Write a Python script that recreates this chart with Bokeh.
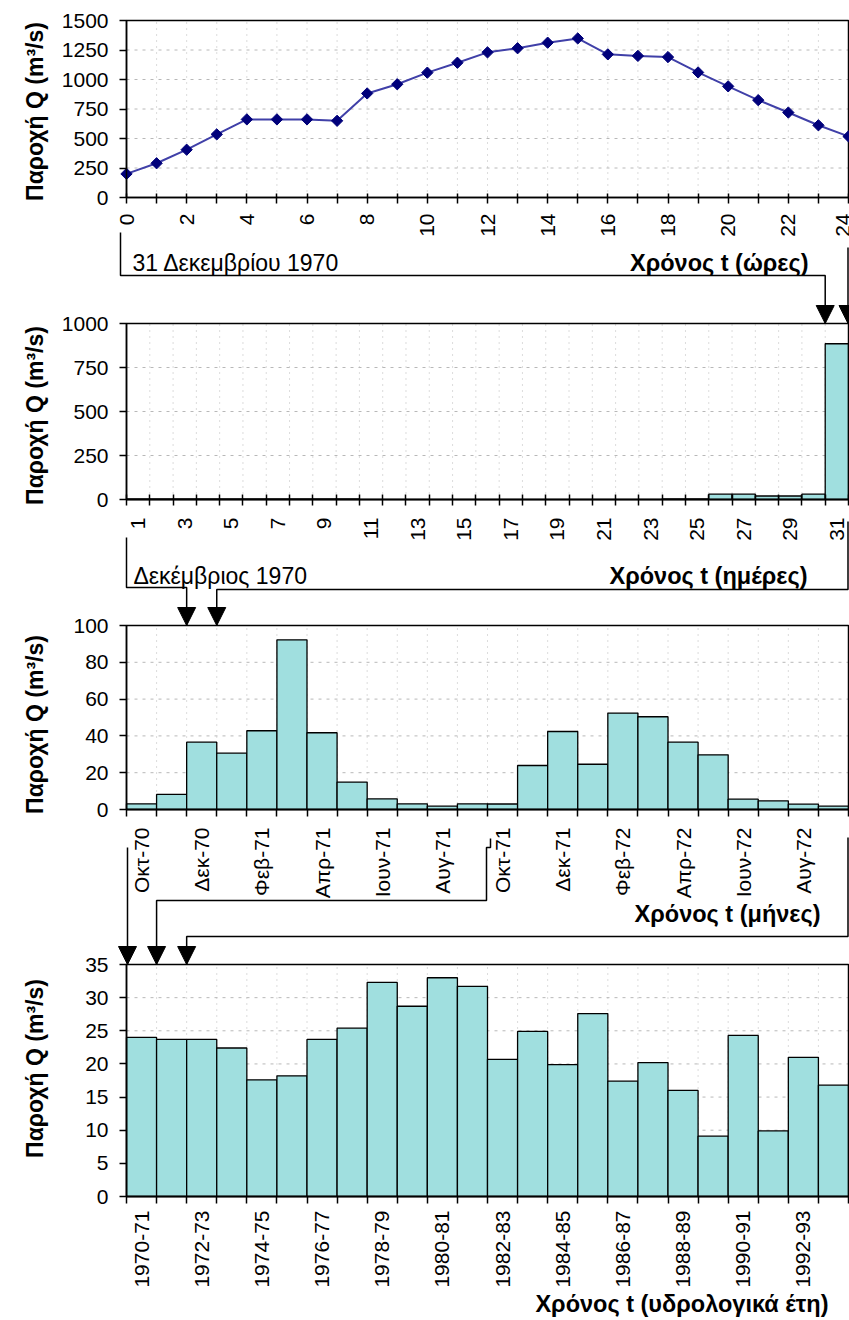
import numpy as np
from bokeh.plotting import figure
from bokeh.models import Range1d, FixedTicker, LinearAxis, Label
from bokeh.embed import file_html
from bokeh.resources import INLINE

# ---------------- data ----------------
# Chart 1: hourly discharge, 31 December 1970
hours = [0, 1, 2, 3, 4, 5, 6, 7, 8, 9, 10, 11, 12, 13, 14, 15, 16, 17, 18, 19, 20, 21, 22, 23, 24]
hourly_q = [200, 290, 405, 535, 662, 662, 662, 650, 882, 960, 1058, 1142, 1230, 1265, 1312, 1348,
            1213, 1200, 1190, 1060, 942, 825, 720, 612, 518]

# Chart 2: daily discharge, December 1970
days = [1, 2, 3, 4, 5, 6, 7, 8, 9, 10, 11, 12, 13, 14, 15, 16, 17, 18, 19, 20, 21, 22, 23, 24, 25,
        26, 27, 28, 29, 30, 31]
daily_q = [3, 3, 3, 3, 3, 3, 3, 3, 3, 3, 0, 0, 0, 0, 0, 0, 0, 0, 0, 0, 0, 0, 0, 3, 3,
           30, 30, 20, 20, 30, 885]

# Chart 3: monthly discharge, Oct 1970 - Sep 1972
months = ["Οκτ-70", "Νοε-70", "Δεκ-70", "Ιαν-71", "Φεβ-71", "Μαρ-71", "Απρ-71", "Μαϊ-71",
          "Ιουν-71", "Ιουλ-71", "Αυγ-71", "Σεπ-71", "Οκτ-71", "Νοε-71", "Δεκ-71", "Ιαν-72",
          "Φεβ-72", "Μαρ-72", "Απρ-72", "Μαϊ-72", "Ιουν-72", "Ιουλ-72", "Αυγ-72", "Σεπ-72"]
monthly_q = [3.1, 8.2, 36.6, 30.6, 42.8, 92.2, 41.7, 14.9, 5.8, 3.1, 1.8, 3.1,
             3.0, 23.9, 42.4, 24.6, 52.4, 50.4, 36.6, 29.7, 5.6, 4.7, 2.9, 1.8]

# Chart 4: annual discharge, hydrological years
years = ["1970-71", "1971-72", "1972-73", "1973-74", "1974-75", "1975-76", "1976-77", "1977-78",
         "1978-79", "1979-80", "1980-81", "1981-82", "1982-83", "1983-84", "1984-85", "1985-86",
         "1986-87", "1987-88", "1988-89", "1989-90", "1990-91", "1991-92", "1992-93", "1993-94"]
annual_q = [24.0, 23.7, 23.7, 22.4, 17.6, 18.2, 23.7, 25.4, 32.3, 28.7, 33.0, 31.7,
            20.7, 24.9, 19.9, 27.6, 17.4, 20.2, 16.0, 9.1, 24.3, 9.9, 21.0, 16.8]

y_ticks_1 = [0, 250, 500, 750, 1000, 1250, 1500]
y_ticks_2 = [0, 250, 500, 750, 1000]
y_ticks_3 = [0, 20, 40, 60, 80, 100]
y_ticks_4 = [0, 5, 10, 15, 20, 25, 30, 35]

Y_TITLE = "Παροχή Q (m³/s)"
X_TITLES = ["Χρόνος t (ώρες)", "Χρόνος t (ημέρες)", "Χρόνος t (μήνες)",
            "Χρόνος t (υδρολογικά έτη)"]
PERIODS = ["31 Δεκεμβρίου 1970", "Δεκέμβριος 1970"]

# ---------------- style / layout ----------------
W, H = 849, 1320
FONT = "Liberation Sans"
CYAN = "#a0dfdf"
GRID = "#b8b8b8"
TICK_FS = "21px"
PX_L, PX_R = 126, 848          # horizontal pixel extent of every chart

p = figure(width=W, height=H, x_range=Range1d(0, W), y_range=Range1d(H, 0),
           x_axis_location=None, y_axis_location=None,
           output_backend="svg", toolbar_location=None,
           min_border=0, min_border_left=0, min_border_right=0,
           min_border_top=0, min_border_bottom=0)
p.outline_line_color = None
p.background_fill_color = "white"
p.border_fill_color = "white"
p.grid.visible = False

charts = {}


def add_chart(name, xr, yr, top_px, bot_px):
    ux = (xr[1] - xr[0]) / (PX_R - PX_L)
    p.extra_x_ranges[name] = Range1d(xr[0] - PX_L * ux, xr[1] + (W - PX_R) * ux)
    uy = (yr[1] - yr[0]) / (bot_px - top_px)
    p.extra_y_ranges[name] = Range1d(yr[0] - (H - bot_px) * uy, yr[1] + top_px * uy)
    charts[name] = dict(xr=xr, yr=yr, top=top_px, bot=bot_px)


def px_of(name, xval):
    xr = charts[name]["xr"]
    return PX_L + (xval - xr[0]) / (xr[1] - xr[0]) * (PX_R - PX_L)


def add_axes(name, yticks, xmajor, xminor, overrides=None, tick_in=0, tick_out=7,
             visible_major=False, x_standoff=10, title_y=None):
    c = charts[name]
    ya = LinearAxis(x_range_name=name, y_range_name=name, fixed_location=c["xr"][0],
                    bounds=c["yr"], ticker=FixedTicker(ticks=yticks, minor_ticks=[]))
    ya.major_tick_out = 7
    ya.major_tick_in = 0
    ya.minor_tick_out = 0
    ya.minor_tick_in = 0
    ya.major_tick_line_width = 1.5
    ya.axis_line_width = 1.5
    ya.major_label_standoff = 11
    ya.major_label_text_font = FONT
    ya.major_label_text_font_size = TICK_FS
    ya.major_label_text_color = "black"
    p.add_layout(ya, "left")

    xa = LinearAxis(x_range_name=name, y_range_name=name, fixed_location=c["yr"][0],
                    bounds=c["xr"], ticker=FixedTicker(ticks=xmajor, minor_ticks=xminor))
    xa.axis_line_width = 1.5
    xa.major_tick_line_width = 1.5
    xa.minor_tick_line_width = 1.5
    xa.major_tick_in = tick_in
    xa.major_tick_out = tick_out
    xa.minor_tick_in = tick_in
    xa.minor_tick_out = tick_out
    if not visible_major:
        xa.major_tick_line_color = None
    xa.major_label_standoff = x_standoff
    xa.major_label_orientation = np.pi / 2
    xa.major_label_text_font = FONT
    xa.major_label_text_font_size = TICK_FS
    xa.major_label_text_color = "black"
    if overrides:
        xa.major_label_overrides = overrides
    p.add_layout(xa, "below")

    # dotted grid inside the chart box only
    vx = [v for v in xminor + (xmajor if visible_major else [])
          if c["xr"][0] < v < c["xr"][1]]
    p.segment(x0=vx, y0=[c["yr"][0]] * len(vx), x1=vx, y1=[c["yr"][1]] * len(vx),
              line_color=GRID, line_dash="1 5", line_width=1,
              x_range_name=name, y_range_name=name)
    hy = [v for v in yticks if c["yr"][0] < v < c["yr"][1]]
    p.segment(x0=[c["xr"][0]] * len(hy), y0=hy, x1=[c["xr"][1]] * len(hy), y1=hy,
              line_color=GRID, line_dash="3 5", line_width=1,
              x_range_name=name, y_range_name=name)

    # y title
    ty = title_y if title_y is not None else (c["top"] + c["bot"]) / 2
    p.add_layout(Label(x=34, y=ty, text=Y_TITLE, angle=np.pi / 2,
                       text_align="center", text_baseline="middle", text_font=FONT,
                       text_font_size="23px", text_font_style="bold", text_color="black"))


def frame_box(name):
    c = charts[name]
    p.quad(left=c["xr"][0], right=c["xr"][1], bottom=c["yr"][0], top=c["yr"][1],
           fill_color=None, line_color="black", line_width=1.5,
           x_range_name=name, y_range_name=name)


# ---------------- chart 1: hourly line ----------------
add_chart("c1", (hours[0], hours[-1]), (y_ticks_1[0], y_ticks_1[-1]), 20, 197)
add_axes("c1", y_ticks_1, hours[::2], hours[1::2], tick_in=4, tick_out=6,
         visible_major=True, x_standoff=10, title_y=111)
frame_box("c1")
p.line(hours, hourly_q, line_color="#4040a8", line_width=2,
       x_range_name="c1", y_range_name="c1")
p.scatter(hours, hourly_q, marker="square", angle=np.pi / 4, size=8,
          fill_color="#00007a", line_color="#00007a", x_range_name="c1", y_range_name="c1")

# ---------------- chart 2: daily bars ----------------
add_chart("c2", (days[0] - 0.5, days[-1] + 0.5), (y_ticks_2[0], y_ticks_2[-1]), 323, 499)
add_axes("c2", y_ticks_2, days[::2], [d - 0.5 for d in days] + [days[-1] + 0.5],
         tick_in=5, tick_out=6, x_standoff=12, title_y=415)
p.vbar(x=days, top=daily_q, width=1, bottom=0, fill_color=CYAN, line_color="black",
       line_width=1.3, x_range_name="c2", y_range_name="c2")
frame_box("c2")

# ---------------- chart 3: monthly bars ----------------
mx = [i + 0.5 for i in range(len(months))]
add_chart("c3", (0, len(months)), (y_ticks_3[0], y_ticks_3[-1]), 625, 809)
add_axes("c3", y_ticks_3, mx[::2], list(range(len(months) + 1)),
         overrides={mx[i]: months[i] for i in range(0, len(months), 2)},
         tick_in=0, tick_out=7, x_standoff=11, title_y=724)
p.vbar(x=mx, top=monthly_q, width=1, bottom=0, fill_color=CYAN, line_color="black",
       line_width=1.3, x_range_name="c3", y_range_name="c3")
frame_box("c3")

# ---------------- chart 4: annual bars ----------------
yx = [i + 0.5 for i in range(len(years))]
add_chart("c4", (0, len(years)), (y_ticks_4[0], y_ticks_4[-1]), 964, 1196)
add_axes("c4", y_ticks_4, yx[::2], list(range(len(years) + 1)),
         overrides={yx[i]: years[i] for i in range(0, len(years), 2)},
         tick_in=0, tick_out=7, x_standoff=7, title_y=1068)
p.vbar(x=yx, top=annual_q, width=1, bottom=0, fill_color=CYAN, line_color="black",
       line_width=1.3, x_range_name="c4", y_range_name="c4")
frame_box("c4")

# ---------------- connectors (page pixel coordinates) ----------------
d31 = days[-1]
dec = months.index("Δεκ-70")
oct71 = months.index("Οκτ-71")
RIGHT = PX_R - 0.5
t2, t3, t4 = charts["c2"]["top"], charts["c3"]["top"], charts["c4"]["top"]

connectors = [
    [(PX_L - 6, 232), (PX_L - 6, 275), (px_of("c2", d31 - 0.5), 275), (px_of("c2", d31 - 0.5), t2)],
    [(RIGHT, 247), (RIGHT, t2)],
    [(PX_L, 537), (PX_L, 587), (px_of("c3", dec), 587), (px_of("c3", dec), t3)],
    [(RIGHT, 521), (RIGHT, 589), (px_of("c3", dec + 1), 589), (px_of("c3", dec + 1), t3)],
    [(px_of("c4", 0) + 1, 847), (px_of("c4", 0) + 1, t4)],
    [(px_of("c3", oct71) + 3, 838), (px_of("c3", oct71) + 3, 847), (px_of("c3", oct71) - 1, 847),
     (px_of("c3", oct71) - 1, 900), (px_of("c4", 1), 900), (px_of("c4", 1), t4)],
    [(RIGHT, 837), (RIGHT, 936), (px_of("c4", 2), 936), (px_of("c4", 2), t4)],
]
HEAD_L, HEAD_W = 18, 9
p.multi_line(xs=[[pt[0] for pt in c] for c in connectors],
             ys=[[pt[1] for pt in c] for c in connectors],
             line_color="black", line_width=1.5)
p.patches(xs=[[c[-1][0], c[-1][0] - HEAD_W, c[-1][0] + HEAD_W] for c in connectors],
          ys=[[c[-1][1], c[-1][1] - HEAD_L, c[-1][1] - HEAD_L] for c in connectors],
          fill_color="black", line_color="black", line_width=1)

texts = [
    (PERIODS[0], 132, 262, "left", "normal", "23px"),
    (X_TITLES[0], 808, 262, "right", "bold", "23.5px"),
    (PERIODS[1], 133, 575, "left", "normal", "23px"),
    (X_TITLES[1], 807, 575, "right", "bold", "23.5px"),
    (X_TITLES[2], 820, 913, "right", "bold", "23.5px"),
    (X_TITLES[3], 828, 1303, "right", "bold", "23.5px"),
]
for txt, x, y, align, style, fs in texts:
    p.add_layout(Label(x=x, y=y, text=txt, text_align=align, text_baseline="alphabetic",
                       text_font=FONT, text_font_size=fs, text_font_style=style,
                       text_color="black"))

open("out.html", "w").write(file_html(p, INLINE))
